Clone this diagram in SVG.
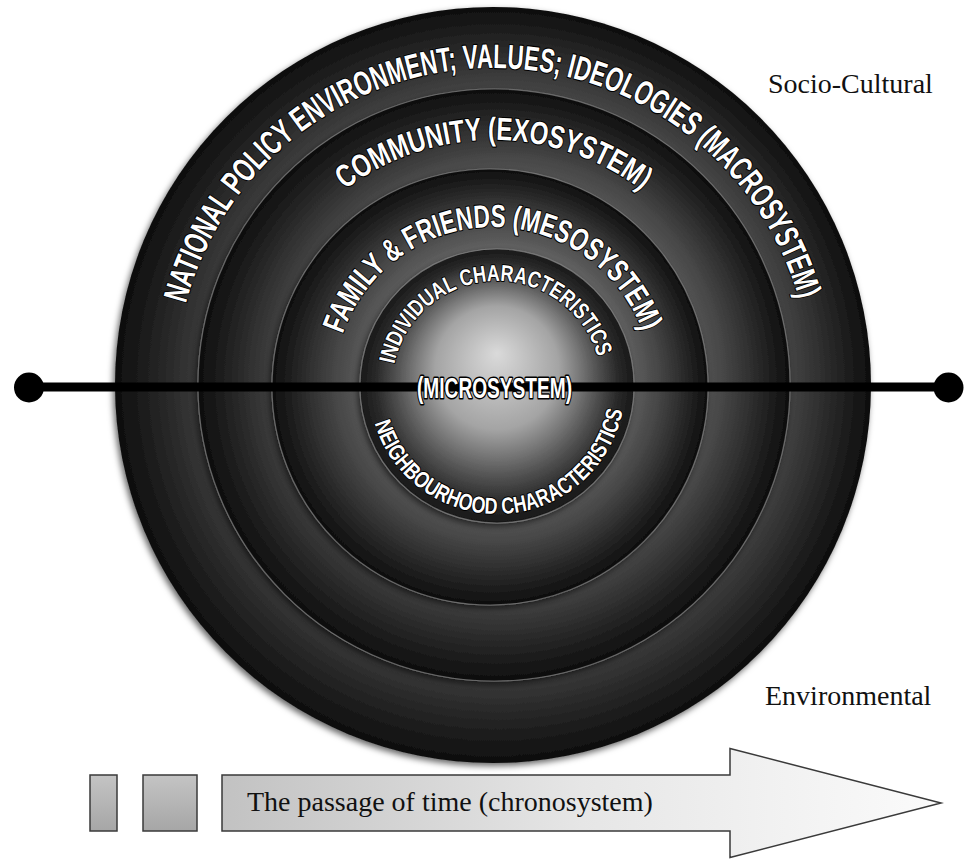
<svg xmlns="http://www.w3.org/2000/svg" xmlns:xlink="http://www.w3.org/1999/xlink" width="965" height="859" viewBox="0 0 965 859">
<style>
.t{font-family:"Liberation Sans",Arial,sans-serif;font-weight:bold;fill:#fff;stroke:#000;stroke-width:2.2;paint-order:stroke;stroke-linejoin:round}
.lbl{font-family:"Liberation Serif","Times New Roman",serif;fill:#111}
.rim{stroke:#9a9a9a;stroke-opacity:0.55;stroke-width:1.2}
.box{stroke:#3a3a3a;stroke-width:1.5}
</style>
<defs>
<radialGradient id="gRing" cx="0.5" cy="0.5" r="0.5" fx="0.56" fy="0.44">
<stop offset="0" stop-color="#a0a0a0"/>
<stop offset="0.55" stop-color="#686868"/>
<stop offset="0.74" stop-color="#474747"/>
<stop offset="0.9" stop-color="#242424"/>
<stop offset="1" stop-color="#0e0e0e"/>
</radialGradient>
<radialGradient id="gMicro" cx="0.5" cy="0.5" r="0.5" fx="0.5" fy="0.38">
<stop offset="0" stop-color="#dadada"/>
<stop offset="0.45" stop-color="#a4a4a4"/>
<stop offset="0.72" stop-color="#555"/>
<stop offset="0.88" stop-color="#2a2a2a"/>
<stop offset="1" stop-color="#181818"/>
</radialGradient>
<linearGradient id="gArrow" x1="0" y1="0" x2="1" y2="0">
<stop offset="0" stop-color="#c2c2c2"/>
<stop offset="0.5" stop-color="#e6e6e6"/>
<stop offset="1" stop-color="#fbfbfb"/>
</linearGradient>
<linearGradient id="gBox" x1="0" y1="0" x2="0" y2="1">
<stop offset="0" stop-color="#c4c4c4"/>
<stop offset="1" stop-color="#a6a6a6"/>
</linearGradient>
<filter id="sh" x="-10%" y="-10%" width="120%" height="120%">
<feDropShadow dx="-2" dy="3" stdDeviation="3" flood-color="#000" flood-opacity="0.6"/>
</filter>
<path id="pMacro" d="M 185.83 303.70 A 318 318 0 0 1 800.17 303.70"/>
<path id="pExo" d="M 344.95 189.54 A 246 246 0 0 1 644.46 192.15"/>
<path id="pMeso" d="M 342.66 334.23 A 159 159 0 0 1 643.34 334.23"/>
<path id="pInd" d="M 394.30 364.17 A 105 105 0 0 1 598.42 358.82"/>
<path id="pNeigh" d="M 374.6 423.4 A 128 128 0 0 0 623.1 408.2"/>
</defs>
<rect width="965" height="859" fill="#fff"/>

<g id="macrosystem">
<circle cx="493" cy="385" r="378" fill="url(#gRing)" filter="url(#sh)"/>
<text class="t" font-size="34"><textPath xlink:href="#pMacro" href="#pMacro" textLength="828" lengthAdjust="spacingAndGlyphs">NATIONAL POLICY ENVIRONMENT; VALUES; IDEOLOGIES (MACROSYSTEM)</textPath></text>
</g>

<g id="exosystem">
<circle cx="494" cy="385" r="296" fill="url(#gRing)" class="rim" filter="url(#sh)"/>
<text class="t" font-size="32"><textPath xlink:href="#pExo" href="#pExo" textLength="319" lengthAdjust="spacingAndGlyphs">COMMUNITY (EXOSYSTEM)</textPath></text>
</g>

<g id="mesosystem">
<circle cx="490" cy="387" r="218" fill="url(#gRing)" class="rim" filter="url(#sh)"/>
<text class="t" font-size="32"><textPath xlink:href="#pMeso" href="#pMeso" textLength="391" lengthAdjust="spacingAndGlyphs">FAMILY &amp; FRIENDS (MESOSYSTEM)</textPath></text>
</g>

<g id="microsystem">
<circle cx="497" cy="386" r="137" fill="url(#gMicro)" class="rim" filter="url(#sh)"/>
<text class="t" font-size="23" style="stroke-width:2"><textPath xlink:href="#pInd" href="#pInd" textLength="278" lengthAdjust="spacingAndGlyphs">INDIVIDUAL CHARACTERISTICS</textPath></text>
<text class="t" font-size="23" style="stroke-width:2"><textPath xlink:href="#pNeigh" href="#pNeigh" textLength="339" lengthAdjust="spacingAndGlyphs">NEIGHBOURHOOD CHARACTERISTICS</textPath></text>
</g>

<g id="connectors">
<line x1="29" y1="387" x2="948" y2="387" stroke="#000" stroke-width="9"/>
<circle cx="29" cy="387.5" r="15" fill="#000"/>
<circle cx="948.5" cy="387.5" r="15" fill="#000"/>
</g>

<g id="microsystem-label">
<text class="t" x="494.5" y="398" font-size="29" text-anchor="middle" textLength="155" lengthAdjust="spacingAndGlyphs" style="stroke-width:3">(MICROSYSTEM)</text>
</g>

<g id="socio-cultural">
<text class="lbl" x="768" y="93" font-size="28">Socio-Cultural</text>
</g>
<g id="environmental">
<text class="lbl" x="765" y="705" font-size="28">Environmental</text>
</g>

<g id="chronosystem">
<rect x="90" y="775" width="27" height="56" fill="url(#gBox)" class="box"/>
<rect x="143" y="775" width="54" height="56" fill="url(#gBox)" class="box"/>
<polygon points="222,775 730,775 730,748.5 941,803 730,857.5 730,831 222,831" fill="url(#gArrow)" class="box"/>
<text class="lbl" x="247" y="811" font-size="28">The passage of time (chronosystem)</text>
</g>
</svg>
